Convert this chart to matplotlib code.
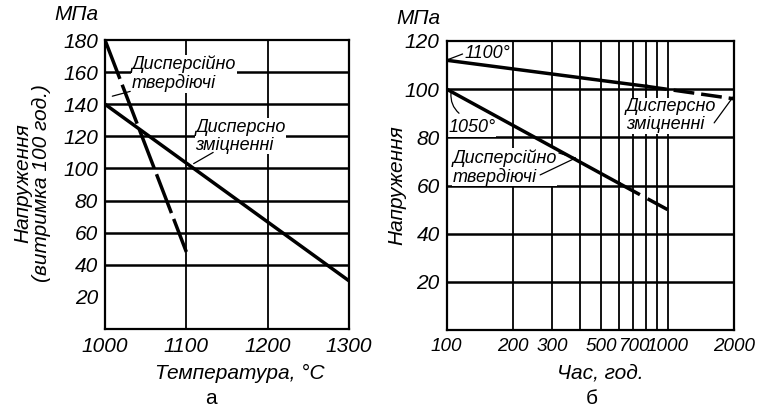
import numpy as np
import matplotlib
matplotlib.use("Agg")
import matplotlib.pyplot as plt

plt.rcParams['font.family'] = ['Liberation Sans', 'DejaVu Sans']
plt.rcParams['font.style'] = 'italic'

# --- panel a: stress vs temperature ---
temp_ticks = [1000, 1100, 1200, 1300]
stress_ticks_a = [20, 40, 60, 80, 100, 120, 140, 160, 180]
grid_a = [40, 60, 80, 100, 120, 140, 160]

hard_temp = [1000, 1100]          # "Дисперсійно твердіючі", dashed
hard_stress = [180, 48]
strength_temp = [1000, 1300]      # "Дисперсно зміцненні", solid
strength_stress = [140, 30]

# --- panel b: stress vs time ---
hour_ticks = [100, 200, 300, 500, 700, 1000, 2000]
hour_grid = [200, 300, 400, 500, 600, 700, 800, 900, 1000]
stress_ticks_b = [20, 40, 60, 80, 100, 120]

h1100_solid = [100, 800]
s1100_solid = [112, 101.2]
h1100_dash = [800, 2000]
s1100_dash = [101.2, 96]

h1050_solid = [100, 600]
s1050_solid = [100, 61]
h1050_dash = [600, 1000]
s1050_dash = [61, 50]

W, H = 764, 408
fig = plt.figure(figsize=(W / 100, H / 100), dpi=100)


def px(x, y):
    return x / W, 1 - y / H


TICK_FS = 15
NOTE_FS = 13
box = dict(fc='white', ec='none', pad=0.5)
leader = dict(arrowstyle='-', lw=0.9, color='black', shrinkA=0, shrinkB=0)

ax1 = fig.add_axes([105 / W, 1 - 329 / H, 244 / W, 289 / H])
ax1.set_xlim(1000, 1300)
ax1.set_ylim(0, 180)
for v in grid_a:
    ax1.axhline(v, color='black', lw=1.8, zorder=1)
for v in temp_ticks[1:-1]:
    ax1.axvline(v, color='black', lw=1.3, zorder=1)
ax1.plot(strength_temp, strength_stress, color='black', lw=2.5, zorder=4,
         solid_capstyle='butt')
ax1.plot(hard_temp, hard_stress, color='black', lw=2.5, zorder=4,
         dashes=(12, 1.8), solid_capstyle='butt', dash_capstyle='butt')
ax1.set_xticks(temp_ticks)
ax1.set_yticks(stress_ticks_a)

ax1.text(1033, 159, 'Дисперсійно\nтвердіючі', fontsize=NOTE_FS,
         va='center', ha='left', bbox=box, zorder=3, linespacing=1.05)
ax1.annotate('', xy=(1009, 145), xytext=(1031, 148), arrowprops=leader)
ax1.text(1111, 120, 'Дисперсно\nзміцненні', fontsize=NOTE_FS,
         va='center', ha='left', bbox=box, zorder=3, linespacing=1.05)
ax1.annotate('', xy=(1109, 103), xytext=(1133, 110), arrowprops=leader)

ax2 = fig.add_axes([446.7 / W, 1 - 330 / H, 287.3 / W, 289 / H])
ax2.set_xscale('log')
ax2.set_xlim(100, 2000)
ax2.set_ylim(0, 120)
for v in stress_ticks_b[:-1]:
    ax2.axhline(v, color='black', lw=1.8, zorder=1)
for v in hour_grid:
    ax2.axvline(v, color='black', lw=1.3, zorder=1)
ax2.plot(h1100_solid, s1100_solid, color='black', lw=2.5, zorder=4)
ax2.plot(h1100_dash, s1100_dash, color='black', lw=2.5, zorder=4,
         dashes=(6, 2), dash_capstyle='butt')
ax2.plot(h1050_solid, s1050_solid, color='black', lw=2.5, zorder=4)
ax2.plot(h1050_dash, s1050_dash, color='black', lw=2.5, zorder=4,
         dashes=(7, 2.5), dash_capstyle='butt')
ax2.set_xticks(hour_ticks)
ax2.set_xticklabels([str(h) for h in hour_ticks])
ax2.xaxis.set_minor_locator(matplotlib.ticker.NullLocator())
ax2.set_yticks(stress_ticks_b)

ax2.text(120, 115, '1100°', fontsize=NOTE_FS, va='center', ha='left',
         bbox=box, zorder=3)
ax2.annotate('', xy=(101.4, 112.3), xytext=(118, 114.6), arrowprops=leader)
ax2.text(101.5, 84, '1050°', fontsize=NOTE_FS, va='center', ha='left',
         bbox=box, zorder=3)
ax2.annotate('', xy=(104.6, 98.4), xytext=(113.7, 90),
             arrowprops=dict(leader, connectionstyle='arc3,rad=-0.25'))
ax2.text(106, 67.5, 'Дисперсійно\nтвердіючі', fontsize=NOTE_FS,
         va='center', ha='left', bbox=box, zorder=3, linespacing=1.05)
ax2.annotate('', xy=(383, 71.4), xytext=(322, 73.5), arrowprops=leader)
ax2.annotate('', xy=(383, 71.4), xytext=(265, 64.4), arrowprops=leader)
ax2.text(646, 89, 'Дисперсно\nзміцненні', fontsize=NOTE_FS,
         va='center', ha='left', bbox=box, zorder=3, linespacing=1.05)
ax2.annotate('', xy=(1982, 96.8), xytext=(1626, 86), arrowprops=leader)

for ax in (ax1, ax2):
    for s in ax.spines.values():
        s.set_linewidth(1.6)
        s.set_zorder(5)
    ax.tick_params(length=0, labelsize=TICK_FS, pad=6)
    ax.tick_params(axis='y', pad=5)
# the tightly packed log labels touch in the original; keep them just apart
ax2.tick_params(axis='x', labelsize=13.6)

fig.text(*px(76, 15), 'МПа', fontsize=TICK_FS, ha='center', va='center')
fig.text(*px(418, 18), 'МПа', fontsize=TICK_FS, ha='center', va='center')
fig.text(*px(32, 183), 'Напруження\n(витримка 100 год.)', fontsize=TICK_FS,
         rotation=90, ha='center', va='center', multialignment='center',
         linespacing=1.0)
fig.text(*px(397, 185), 'Напруження', fontsize=TICK_FS, rotation=90,
         ha='center', va='center')
fig.text(*px(240, 373), 'Температура, °С', fontsize=TICK_FS,
         ha='center', va='center')
fig.text(*px(211, 398), 'а', fontsize=TICK_FS, ha='center', va='center',
         style='normal')
fig.text(*px(600, 373), 'Час, год.', fontsize=TICK_FS,
         ha='center', va='center')
fig.text(*px(592, 398), 'б', fontsize=TICK_FS, ha='center', va='center',
         style='normal')

fig.savefig('out.png', dpi=100)
